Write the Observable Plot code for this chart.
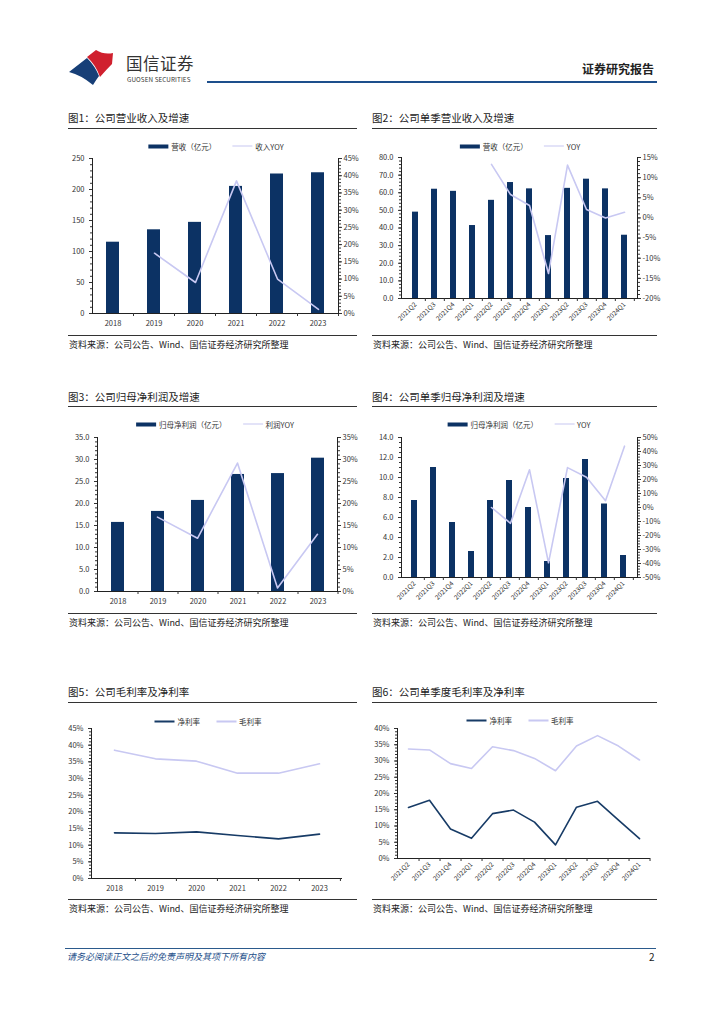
<!DOCTYPE html>
<html><head><meta charset="utf-8">
<script src="https://cdn.jsdelivr.net/npm/d3@7"></script>
<script src="https://cdn.jsdelivr.net/npm/@observablehq/plot@0.6"></script>
<style>
body{margin:0;background:#fff;}
#page{position:relative;width:724px;height:1024px;overflow:hidden;background:#fff;font-family:"Noto Sans CJK SC","Noto Sans",sans-serif;color:#222;}
.abs{position:absolute;white-space:nowrap;line-height:1;}
.title{font-size:10.5px;color:#222;line-height:12px;}
.hr{position:absolute;height:0;border-top:1px solid #333;}
.src{font-size:9px;line-height:11px;color:#222;}
.legend{position:absolute;display:flex;align-items:center;font-size:7.5px;white-space:nowrap;transform:translate(-50%,-50%);color:#333;}
.sw{display:inline-block;margin-right:3px;}
.gap{display:inline-block;width:16px;}
</style></head><body><div id="page"></div>
<script>
// ---------- data ----------
const years = ["2018","2019","2020","2021","2022","2023"];
const quarters = ["2021Q2","2021Q3","2021Q4","2022Q1","2022Q2","2022Q3","2022Q4","2023Q1","2023Q2","2023Q3","2023Q4","2024Q1"];
const revenue = [115,135,147,205,225,227];
const revenueYoY = [null,0.175,0.09,0.385,0.10,0.012];
const qRevenue = [49,62,60.8,41.4,55.7,65.8,62.2,35.7,62.5,67.7,62.2,35.9];
const qRevenueYoY = [null,null,null,null,0.133,0.058,0.031,-0.138,0.131,0.021,0.0,0.014];
const profit = [15.7,18.2,20.7,26.6,26.8,30.3];
const profitYoY = [null,0.169,0.121,0.292,0.008,0.13];
const qProfit = [7.7,11.0,5.5,2.6,7.7,9.7,7.0,1.6,9.9,11.8,7.35,2.2];
const qProfitYoY = [null,null,null,null,0.0,-0.113,0.27,-0.395,0.285,0.216,0.049,0.438];
const grossMargin = [0.385,0.359,0.352,0.316,0.316,0.344];
const netMargin = [0.137,0.135,0.140,0.129,0.119,0.133];
const qGrossMargin = [0.337,0.334,0.292,0.277,0.344,0.332,0.308,0.270,0.346,0.378,0.346,0.303];
const qNetMargin = [0.157,0.179,0.091,0.062,0.138,0.149,0.112,0.042,0.158,0.176,0.118,0.061];

// ---------- helpers ----------
const FONT = '"Noto Sans CJK SC","Noto Sans",sans-serif';
const NAVY = "#0c3264";
const LAV = "#c8c8f2";
const DARK = "#173b66";
const page = document.getElementById("page");
const pct = v => Math.round(v*100) + "%";
const f1 = d3.format(".1f");
const f0 = d3.format("d");
const rng = (a,b,s) => d3.range(Math.round((b-a)/s)+1).map(i => +(a+i*s).toFixed(4));
const rows = (cats, vals) => cats.map((c,i)=>({c, v: vals[i]})).filter(d => d.v != null);

function el(tag, cls, html, left, top, css){
  const n = document.createElement(tag);
  if (cls) n.className = cls;
  if (html != null) n.innerHTML = html;
  n.style.position = "absolute"; n.style.left = left+"px"; n.style.top = top+"px";
  if (css) n.style.cssText += css;
  page.appendChild(n); return n;
}
function hr(x0, x1, y, color, w){
  const n = el("div","hr",null,x0,y); n.style.width = (x1-x0)+"px";
  if (color) n.style.borderTopColor = color; if (w) n.style.borderTopWidth = w+"px"; return n;
}
function place(node, left, top){ node.style.position="absolute"; node.style.left=left+"px"; node.style.top=top+"px"; page.appendChild(node); }

function geom(sx, sy, w, h, px0, py0, px1, py1){
  return {sx, sy, w, h, px0, px1, py0, py1, ml: px0-sx, mr: sx+w-px1, mt: py0-sy, mb: sy+h-py1};
}
function base(g){
  return {width:g.w, height:g.h, marginLeft:g.ml, marginRight:g.mr, marginTop:g.mt, marginBottom:g.mb,
    style:{fontFamily:FONT, fontSize:"7.5px", color:"#333", background:"transparent", overflow:"visible"}};
}
function xAxes(g, n, rotate){
  const step = (g.px1-g.px0)/n;
  return [
    Plot.axisX({tickSize:0, tickPadding: rotate ? 5 : 7, tickRotate: rotate ? -45 : 0, label:null, fontSize: rotate ? 6.5 : 7.5}),
    Plot.axisX({tickSize:3, tickFormat:()=>"", dx: step/2, label:null})
  ];
}
function leftAxes(ticks, minor, fmt){
  return [
    Plot.frame({anchor:"left", stroke:"#222"}),
    Plot.axisY(minor, {tickSize:2, tickFormat:()=>"", label:null}),
    Plot.axisY(ticks, {tickSize:3, tickPadding:5, tickFormat:fmt, label:null})
  ];
}
function barPlot(g, cats, pad, vals, yDomain, ticks, minor, fmt, rotate){
  return Plot.plot({...base(g),
    x:{domain:cats, paddingInner:pad, paddingOuter:pad/2, label:null},
    y:{domain:yDomain, label:null},
    marks:[
      Plot.barY(rows(cats, vals), {x:"c", y:"v", fill:NAVY}),
      Plot.ruleY([yDomain[0]], {stroke:"#222"}),
      ...leftAxes(ticks, minor, fmt),
      ...xAxes(g, cats.length, rotate)
    ]});
}
function linePlot(g, cats, pad, vals, yDomain, ticks, minor){
  return Plot.plot({...base(g),
    x:{domain:cats, paddingInner:pad, paddingOuter:pad/2, axis:null},
    y:{domain:yDomain, label:null},
    marks:[
      Plot.lineY(rows(cats, vals), {x:"c", y:"v", stroke:LAV, strokeWidth:1.6}),
      Plot.frame({anchor:"right", stroke:"#222"}),
      Plot.axisY(minor, {anchor:"right", tickSize:2, tickFormat:()=>"", label:null}),
      Plot.axisY(ticks, {anchor:"right", tickSize:3, tickPadding:2, tickFormat:pct, label:null})
    ]});
}
function marginPlot(g, cats, pad, series, yDomain, ticks, minor, rotate){
  return Plot.plot({...base(g),
    x:{domain:cats, paddingInner:pad, paddingOuter:pad/2, label:null},
    y:{domain:yDomain, label:null},
    marks:[
      ...series.map(s => Plot.lineY(rows(cats, s.vals), {x:"c", y:"v", stroke:s.color, strokeWidth:1.6})),
      Plot.ruleY([yDomain[0]], {stroke:"#222"}),
      ...leftAxes(ticks, minor, pct),
      ...xAxes(g, cats.length, rotate)
    ]});
}
function legend(cx, cy, items){
  const d = document.createElement("div"); d.className = "legend";
  d.style.left = cx+"px"; d.style.top = cy+"px";
  d.innerHTML = items.map((it,i) => (i? '<span class="gap"></span>' : '') +
    (it.type==="bar"
      ? `<span class="sw" style="width:20px;height:4px;background:${it.color}"></span>`
      : `<span class="sw" style="width:20px;height:0;border-top:${it.w||1.6}px solid ${it.color}"></span>`) +
    `<span>${it.label}</span>`).join("");
  page.appendChild(d);
}
function panel(x0, x1, titleTop, title, ulY, srcLineY){
  el("div","abs title",title,x0,titleTop);
  hr(x0, x1, ulY, "#333");
  hr(x0, x1, srcLineY, "#333");
  el("div","abs src","资料来源：公司公告、Wind、国信证券经济研究所整理",x0+1,srcLineY+4);
}

// ---------- header ----------
const logo = document.createElementNS("http://www.w3.org/2000/svg","svg");
logo.setAttribute("width","60"); logo.setAttribute("height","40");
logo.setAttribute("viewBox","60 48 60 40");
logo.innerHTML = `<path d="M69 72 L87 58 Q95 66 99 76 Q96 80 93 85 Q81 75 69 72 Z" fill="#173f77"/>
<path d="M87 57 L96 50 Q104 55 113 53 L112 64 Q106 70 100 77 Q96 65 87 57 Z" fill="#d0202e"/>`;
place(logo, 60, 48);
el("div","abs","国信证券",126,55,"font-size:16.5px;letter-spacing:0.5px;color:#333");
el("div","abs","GUOSEN SECURITIES",127,77,"font-size:6.3px;color:#333;letter-spacing:0.1px");
el("div","abs","证券研究报告",582,63,"font-size:12px;font-weight:bold;color:#222");
hr(207, 657, 81, "#1d4f8c", 2);

// ---------- chart 1 ----------
panel(68, 357, 112, "图1：公司营业收入及增速", 128, 335);
legend(216, 146, [{type:"bar", color:NAVY, label:"营收（亿元）"}, {type:"line", color:LAV, label:"收入YOY"}]);
{
  const g = geom(62, 148, 298, 188, 92, 158, 338, 313);
  place(barPlot(g, years, 0.68, revenue, [0,250], rng(0,250,50), rng(0,250,10), f0, false), g.sx, g.sy);
  place(linePlot(g, years, 0.68, revenueYoY, [0,0.45], rng(0,0.45,0.05), rng(0,0.45,0.01)), g.sx, g.sy);
}
// ---------- chart 2 ----------
panel(372, 657, 112, "图2：公司单季营业收入及增速", 128, 335);
legend(520, 146, [{type:"bar", color:NAVY, label:"营收（亿元）"}, {type:"line", color:LAV, label:"YOY"}]);
{
  const g = geom(366, 147, 294, 186, 401, 157, 637, 298);
  place(barPlot(g, quarters, 0.7, qRevenue, [0,80], rng(0,80,10), rng(0,80,2), f1, true), g.sx, g.sy);
  place(linePlot(g, quarters, 0.7, qRevenueYoY, [-0.2,0.15], rng(-0.2,0.15,0.05), rng(-0.2,0.15,0.01)), g.sx, g.sy);
}
// ---------- chart 3 ----------
panel(68, 357, 391, "图3：公司归母净利润及增速", 406, 613);
legend(215, 424, [{type:"bar", color:NAVY, label:"归母净利润（亿元）"}, {type:"line", color:LAV, label:"利润YOY"}]);
{
  const g = geom(62, 427, 298, 182, 97, 437, 337, 591);
  place(barPlot(g, years, 0.68, profit, [0,35], rng(0,35,5), rng(0,35,1), f1, false), g.sx, g.sy);
  place(linePlot(g, years, 0.68, profitYoY, [0,0.35], rng(0,0.35,0.05), rng(0,0.35,0.01)), g.sx, g.sy);
}
// ---------- chart 4 ----------
panel(372, 657, 391, "图4：公司单季归母净利润及增速", 406, 613);
legend(519, 424, [{type:"bar", color:NAVY, label:"归母净利润（亿元）"}, {type:"line", color:LAV, label:"YOY"}]);
{
  const g = geom(366, 427, 294, 184, 401, 437, 637, 577);
  place(barPlot(g, quarters, 0.66, qProfit, [0,14], rng(0,14,2), rng(0,14,0.5), f1, true), g.sx, g.sy);
  place(linePlot(g, quarters, 0.66, qProfitYoY, [-0.5,0.5], rng(-0.5,0.5,0.1), rng(-0.5,0.5,0.02)), g.sx, g.sy);
}
// ---------- chart 5 ----------
panel(68, 357, 686, "图5：公司毛利率及净利率", 702, 899);
legend(208, 721, [{type:"line", color:DARK, label:"净利率", w:2}, {type:"line", color:LAV, label:"毛利率", w:2}]);
{
  const g = geom(62, 718, 298, 178, 91, 728, 342, 878);
  place(marginPlot(g, years, 0.5, [{vals:netMargin, color:DARK}, {vals:grossMargin, color:LAV}],
    [0,0.45], rng(0,0.45,0.05), rng(0,0.45,0.01), false), g.sx, g.sy);
}
// ---------- chart 6 ----------
panel(372, 657, 686, "图6：公司单季度毛利率及净利率", 702, 899);
legend(520, 720, [{type:"line", color:DARK, label:"净利率", w:2}, {type:"line", color:LAV, label:"毛利率", w:2}]);
{
  const g = geom(366, 718, 294, 178, 397, 728, 650, 858);
  place(marginPlot(g, quarters, 0.5, [{vals:qNetMargin, color:DARK}, {vals:qGrossMargin, color:LAV}],
    [0,0.40], rng(0,0.40,0.05), rng(0,0.40,0.01), true), g.sx, g.sy);
}

// ---------- footer ----------
hr(65, 656, 948, "#2b5a8c", 1);
el("div","abs","请务必阅读正文之后的免责声明及其项下所有内容",67,952,"font-size:9px;font-style:italic;color:#1e4f8a");
el("div","abs","2",649,952,"font-size:10px;color:#222");
</script></body></html>
